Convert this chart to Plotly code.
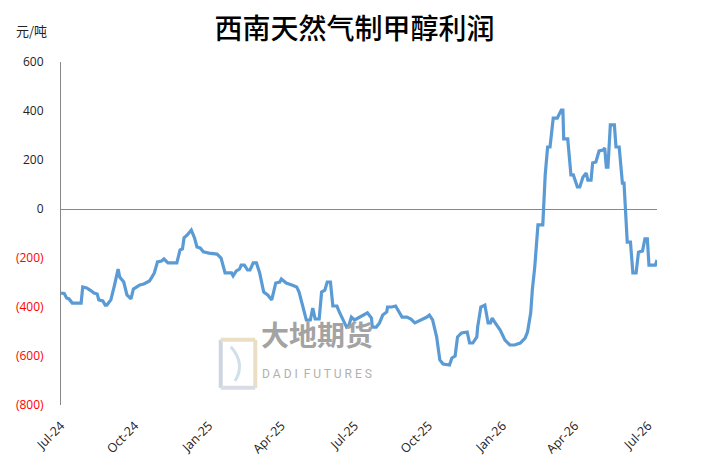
import pandas as pd
import plotly.graph_objects as go

# days since 2024-07-01
days = [0, 4, 7, 10, 14, 25, 27, 32, 37, 41, 45, 47, 52, 55, 57, 62, 66, 71, 73, 78,
        82, 87, 90, 95, 98, 103, 110, 113, 116, 120, 125, 128, 133, 144, 148, 151, 153, 157, 162, 166,
        169, 173, 177, 184, 191, 194, 199, 204, 212, 214, 218, 222, 224, 228, 232, 235, 239, 243, 247, 252,
        257, 262, 267, 272, 274, 280, 287, 293, 296, 300, 305, 310, 313, 316, 321, 324, 328, 331, 335, 338,
        343, 346, 350, 355, 358, 361, 365, 371, 377, 381, 386, 387, 392, 396, 400, 405, 406, 411, 416, 419,
        424, 430, 435, 440, 448, 455, 458, 462, 467, 471, 475, 483, 486, 490, 493, 498, 505, 508, 512, 517,
        518, 522, 527, 531, 534, 536, 539, 546, 552, 558, 564, 571, 577, 580, 584, 586, 589, 591, 593, 599,
        602, 605, 608, 612, 617, 622, 624, 625, 630, 634, 637, 642, 645, 649, 653, 655, 659, 661, 665, 669,
        674, 676, 678, 680, 683, 688, 690, 694, 698, 700, 704, 708, 711, 715, 718, 723, 726, 729, 731, 739,
        741]
profit = [-343, -345, -363, -367, -384, -384, -318, -322, -333, -343, -347, -371, -375, -392, -392, -371, -318, -245, -278, -298,
          -351, -367, -327, -318, -310, -306, -294, -278, -261, -216, -212, -204, -220, -220, -167, -163, -118, -106, -86, -118,
          -155, -159, -175, -180, -184, -184, -200, -261, -261, -273, -253, -245, -229, -229, -249, -249, -220, -220, -261, -339,
          -351, -371, -302, -298, -286, -302, -310, -318, -339, -392, -453, -453, -404, -449, -449, -339, -331, -298, -298, -396,
          -396, -420, -445, -482, -474, -441, -453, -441, -429, -424, -445, -482, -482, -465, -433, -420, -400, -400, -396, -412,
          -441, -441, -449, -465, -453, -441, -433, -453, -522, -616, -633, -637, -608, -600, -522, -506, -502, -547, -547, -522,
          -482, -400, -392, -465, -465, -445, -461, -494, -535, -555, -555, -547, -527, -502, -424, -330, -237, -140, -65, -65,
          139, 253, 253, 371, 371, 404, 404, 286, 286, 139, 139, 90, 90, 131, 147, 118, 118, 188, 192, 237,
          241, 249, 171, 171, 343, 343, 253, 253, 106, 106, -135, -135, -261, -261, -176, -171, -122, -122, -229, -229,
          -208]

y_ticks = [600, 400, 200, 0, -200, -400, -600, -800]
y_text = ["600", "400", "200", "0",
          "<span style='color:#ff0000'>(200)</span>",
          "<span style='color:#ff0000'>(400)</span>",
          "<span style='color:#ff0000'>(600)</span>",
          "<span style='color:#ff0000'>(800)</span>"]

dates = pd.Timestamp("2024-07-01") + pd.to_timedelta(days, unit="D")

fig = go.Figure()
fig.add_trace(go.Scatter(x=dates, y=profit, mode="lines",
                         line=dict(color="#5b9bd5", width=3.2), hoverinfo="skip"))

fig.update_layout(
    width=709, height=473,
    margin=dict(l=61, r=52, t=62, b=68, autoexpand=False),
    paper_bgcolor="white", plot_bgcolor="white",
    showlegend=False,
    font=dict(family="Open Sans, sans-serif", size=12, color="#333333"),
    title=dict(text="西南天然气制甲醇利润", x=0.5, xanchor="center", y=0.938, yanchor="middle",
               font=dict(family="Noto Sans CJK SC", size=28, color="#000000", weight=500)),
)
fig.update_xaxes(
    type="date", range=["2024-07-01", "2026-07-12"], automargin=False,
    tick0="2024-07-01", dtick="M3", tickformat="%b-%y", tickangle=-45,
    showgrid=False, showline=False, zeroline=False, ticks="", ticklabelstandoff=10,
    tickfont=dict(size=12.5, color="#222222"),
)
fig.update_yaxes(
    range=[-800, 600], tickvals=y_ticks, ticktext=y_text, automargin=False,
    showgrid=False, showline=True, linecolor="#888888", linewidth=1,
    zeroline=True, zerolinecolor="#888888", zerolinewidth=1,
    ticks="", ticklabelstandoff=14,
    tickfont=dict(size=12, color="#222222"),
)

# unit label
fig.add_annotation(text="元/吨", xref="paper", yref="paper", x=-0.079, y=1.093,
                   xanchor="left", yanchor="middle", showarrow=False,
                   font=dict(family="Noto Sans CJK SC", size=13, color="#222222"))

# watermark
fig.add_shape(type="line", xref="paper", yref="paper", x0=0.268, x1=0.268, y0=0.05, y1=0.19,
              line=dict(color="#cdd5e0", width=4), layer="below")
fig.add_shape(type="line", xref="paper", yref="paper", x0=0.268, x1=0.326, y0=0.19, y1=0.19,
              line=dict(color="#eadfc4", width=4), layer="below")
fig.add_shape(type="line", xref="paper", yref="paper", x0=0.326, x1=0.326, y0=0.19, y1=0.05,
              line=dict(color="#eadfc4", width=4), layer="below")
fig.add_shape(type="line", xref="paper", yref="paper", x0=0.268, x1=0.326, y0=0.05, y1=0.05,
              line=dict(color="#d8dde5", width=4), layer="below")
fig.add_shape(type="path", xref="paper", yref="paper",
              path="M 0.285,0.17 Q 0.31,0.12 0.292,0.07", line=dict(color="#cfe0ea", width=3), layer="below")
fig.add_annotation(text="<b>大地期货</b>", xref="paper", yref="paper", x=0.43, y=0.143,
                   showarrow=False, font=dict(family="Noto Sans CJK SC", size=28, color="#a3a3a3"))
fig.add_annotation(text="D A D I  F U T U R E S", xref="paper", yref="paper", x=0.43, y=0.064,
                   showarrow=False, font=dict(family="Roboto", size=12, color="#b0b0b0"))

# page body has an 8px default margin; drop it so the figure sits at the window origin
fig.write_html("out.html", config={"displayModeBar": False},
               post_script="document.body.style.margin='0px';")
